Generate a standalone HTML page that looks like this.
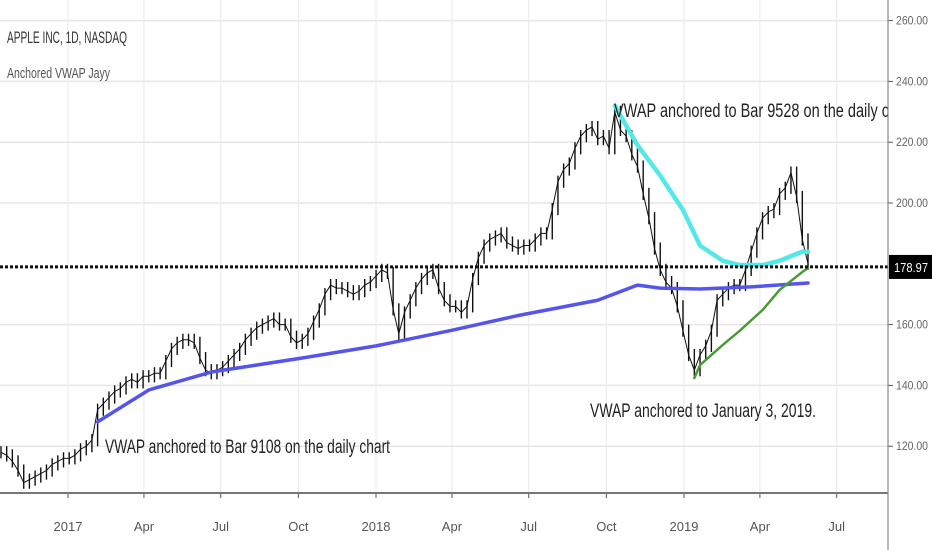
<!DOCTYPE html>
<html><head><meta charset="utf-8">
<style>
html,body{margin:0;padding:0;background:#fff;}
svg{display:block;font-family:"Liberation Sans",sans-serif;}
</style></head>
<body>
<svg id="chart" width="932" height="550" viewBox="0 0 932 550" xmlns="http://www.w3.org/2000/svg">
<rect x="0" y="0" width="932" height="550" fill="#ffffff"/>
<g id="grid"></g>
<g id="series"></g>
<g id="axes"></g>
<text x="7" y="43" font-size="17" fill="#333" textLength="120" lengthAdjust="spacingAndGlyphs">APPLE INC, 1D, NASDAQ</text>
<text x="7" y="78" font-size="15" fill="#555" textLength="103" lengthAdjust="spacingAndGlyphs">Anchored VWAP Jayy</text>
<text x="614" y="117" font-size="19" fill="#222" textLength="300" lengthAdjust="spacingAndGlyphs">VWAP anchored to Bar 9528 on the daily chart</text>
<text x="590" y="417" font-size="19" fill="#222" textLength="226" lengthAdjust="spacingAndGlyphs">VWAP anchored to January 3, 2019.</text>
<text x="105" y="453" font-size="19" fill="#222" textLength="285" lengthAdjust="spacingAndGlyphs">VWAP anchored to Bar 9108 on the daily chart</text>
<rect x="888" y="0" width="44" height="550" fill="#fff"/>
<g id="raxis"></g>
</svg>
<script>
// weekly closes starting mid-October 2016
const closes = [118,117,115,112,108,109,110,111,112,114,115,116,116,117,119,120,122,132,134,136,138,139,141,142,141,143,143,144,144,148,152,154,155,155,154,149,145,144,145,146,148,150,152,155,157,159,160,161,162,160,160,156,154,155,157,161,165,170,173,172,172,171,170,171,173,174,176,178,177,165,157,164,168,172,175,177,178,172,168,166,166,164,166,175,182,186,188,189,190,187,186,185,186,186,188,190,190,198,207,211,213,218,222,224,225,221,222,218,230,224,222,216,212,203,195,185,178,174,172,166,158,150,145,150,153,158,168,170,172,173,173,178,184,190,195,197,198,203,205,210,202,188,180];
const blueWeeks = [17,26,37,53,66,79,91,105,112,116,123,132,142];
const blueVals  = [128,138.5,144.4,149,153,158,163,168,173,172,171.7,172.4,173.7];
const cyanWeeks = [108,112,116,120,123,127,130,134,137,141,142];
const cyanVals  = [232,219,209,197.7,186,181,179.6,179.6,181,184,184];
const greenWeeks = [122,123,127,130,134,137,141,142];
const greenVals  = [142.4,146.7,153.3,158,164.8,171.4,177.3,178.6];
const priceTicks = [260,240,220,200,160,140,120];
const dateLabels = ["2017","Apr","Jul","Oct","2018","Apr","Jul","Oct","2019","Apr","Jul"];
const dateDays = [0,90,181,273,365,455,546,638,730,820,911];
const lastPrice = 178.97;

const NS="http://www.w3.org/2000/svg";
const yOf = p => 203 + (200 - p) * 3.04;
const xDay = d => 68 + d * 0.8438;
const xWeek = i => 1 + i * (807 / (closes.length - 1));
function mk(tag, attrs, parent){const e=document.createElementNS(NS,tag);for(const k in attrs)e.setAttribute(k,attrs[k]);parent.appendChild(e);return e;}
const grid=document.getElementById('grid'), series=document.getElementById('series'), axes=document.getElementById('axes'), raxis=document.getElementById('raxis');

priceTicks.forEach(p=>{
  const l=mk('line',{x1:0,x2:888,y1:yOf(p),y2:yOf(p),stroke:'#e6e6e6','stroke-width':1.5},grid);
  
  
  const t=mk('line',{x1:888,x2:893,y1:yOf(p),y2:yOf(p),stroke:'#555'},raxis);
  
  
  const tx=mk('text',{x:896,y:yOf(p)+4,'font-size':12,fill:'#666',textLength:32,lengthAdjust:'spacingAndGlyphs'},raxis);
  tx.textContent=p.toFixed(2);
  
  
});
dateDays.forEach((d,i)=>{
  const x=xDay(d);
  const l=mk('line',{x1:x,x2:x,y1:0,y2:493,stroke:'#ececec','stroke-width':1.2},grid);
  
  
  const t=mk('line',{x1:x,x2:x,y1:493,y2:498,stroke:'#555'},axes);
  
  
  const tx=mk('text',{x:x,y:531,'font-size':13,fill:'#555','text-anchor':'middle'},axes);
  tx.textContent=dateLabels[i];
  
  
});

closes.forEach((c,i)=>{
  const prev = i>0?closes[i-1]:c;
  const hi=Math.max(c,prev)+2, lo=Math.min(c,prev)-2;
  const x=xWeek(i);
  const b=mk('line',{x1:x,x2:x,y1:yOf(hi),y2:yOf(lo),stroke:'#111','stroke-width':1.4},series);
  
  
});
const pl=mk('polyline',{points:closes.map((c,i)=>xWeek(i)+','+yOf(c)).join(' '),fill:'none',stroke:'#111','stroke-width':1},series);



function vline(weeks,vals,color,w,name){
  const e=mk('polyline',{points:weeks.map((wk,i)=>xWeek(wk)+','+yOf(vals[i])).join(' '),fill:'none',stroke:color,'stroke-width':w,'stroke-linejoin':'round','stroke-linecap':'round'},series);
  
  
}
vline(blueWeeks,blueVals,'#5555ee',3.5,'vwap-bar-9108');
vline(cyanWeeks,cyanVals,'#55e8e8',4.5,'vwap-bar-9528');
vline(greenWeeks,greenVals,'#4a9a3a',2.5,'vwap-jan-2019');

const dl=mk('line',{x1:0,x2:888,y1:yOf(lastPrice),y2:yOf(lastPrice),stroke:'#111','stroke-width':3,'stroke-dasharray':'3,2'},series);



const ax=mk('line',{x1:0,x2:888,y1:493,y2:493,stroke:'#777','stroke-width':2},axes);


const ay=mk('line',{x1:888,x2:888,y1:0,y2:550,stroke:'#888','stroke-width':1.2},raxis);


const lb=mk('rect',{x:889,y:yOf(lastPrice)-12,width:43,height:24,fill:'#000'},raxis);


const lt=mk('text',{x:894,y:yOf(lastPrice)+5,'font-size':13,fill:'#fff',textLength:34,lengthAdjust:'spacingAndGlyphs'},raxis);
lt.textContent=lastPrice.toFixed(2);


</script>
</body></html>
